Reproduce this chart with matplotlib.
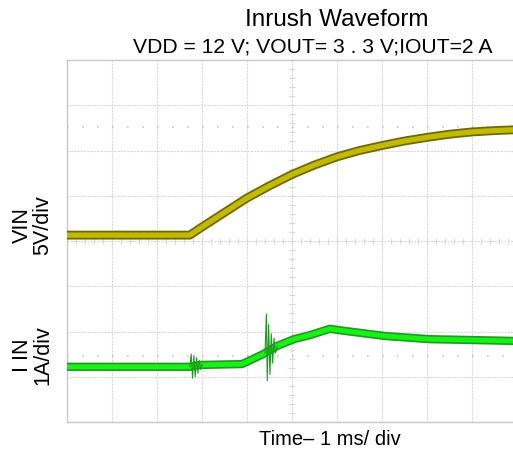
import numpy as np
import matplotlib
matplotlib.use("Agg")
import matplotlib.pyplot as plt

plt.rcParams['font.family'] = ['Liberation Sans', 'DejaVu Sans']

# screen units are divisions: 10 across (1 ms/div), 8 down
# VIN trace (5 V/div)
vin_t = [0.0, 2.73, 3.0, 3.5, 4.0, 4.5, 5.0, 5.5, 6.0, 6.5, 7.0, 7.5, 8.0, 8.5, 9.0, 9.5, 10.0]
vin_y = [4.13, 4.13, 4.31, 4.63, 4.95, 5.22, 5.47, 5.68, 5.86, 6.00, 6.11, 6.21, 6.29, 6.36, 6.41, 6.44, 6.46]

# IIN trace (1 A/div)
iin_t = [0.0, 2.73, 2.95, 3.89, 4.36, 4.67, 5.04, 5.40, 5.84, 6.04, 7.07, 8.07, 9.07, 10.0]
iin_y = [1.22, 1.22, 1.26, 1.28, 1.50, 1.68, 1.83, 1.92, 2.06, 2.03, 1.90, 1.83, 1.81, 1.79]

# ringing bursts
burst1_t = [2.73, 2.76, 2.79, 2.82, 2.85, 2.88, 2.91, 2.94, 2.97, 3.00]
burst1_y = [1.22, 1.50, 0.97, 1.47, 1.00, 1.42, 1.08, 1.36, 1.16, 1.27]
burst2_t = [4.40, 4.43, 4.45, 4.48, 4.51, 4.54, 4.57, 4.60, 4.63, 4.67]
burst2_y = [1.52, 2.39, 0.91, 2.15, 1.05, 1.95, 1.30, 1.85, 1.52, 1.68]

# reference markers (dotted)
ref_levels = [6.52, 1.46]

fig = plt.figure(figsize=(5.13, 4.52), dpi=100)
ax = fig.add_axes([67 / 513, 29 / 452, 450 / 513, 362 / 452])
ax.set_xlim(0, 10)
ax.set_ylim(0, 8)

grid_c = '#d8d8d8'
for gx in range(1, 10):
    ax.axvline(gx, color=grid_c, lw=0.8, ls=(0, (2, 1)), zorder=1)
for gy in range(1, 8):
    ax.axhline(gy, color=grid_c, lw=0.8, ls=(0, (2, 1)), zorder=1)

# minor ticks on centre lines
minor = np.arange(0, 10.01, 0.2)
ax.plot(minor, np.full_like(minor, 4.0), ls='none', marker='|', ms=5, mew=0.8, color=grid_c, zorder=1)
minor_y = np.arange(0, 8.01, 0.2)
ax.plot(np.full_like(minor_y, 5.0), minor_y, ls='none', marker='_', ms=5, mew=0.8, color=grid_c, zorder=1)

for lvl in ref_levels:
    ax.axhline(lvl, color='#c8c8c8', lw=1.2, ls=(0, (1, 8)), zorder=1)

# VIN band
ax.plot(vin_t, vin_y, color='#6e6a00', lw=6.4, solid_capstyle='butt', zorder=3)
ax.plot(vin_t, vin_y, color='#c2ba00', lw=3.8, solid_capstyle='butt', zorder=4)

# IIN band
ax.plot(iin_t, iin_y, color='#1c9c1c', lw=6.0, solid_capstyle='butt', zorder=3)
ax.plot(iin_t, iin_y, color='#18f018', lw=3.6, solid_capstyle='butt', zorder=4)
ax.plot(burst1_t, burst1_y, color='#1c9c1c', lw=0.8, zorder=5)
ax.plot(burst2_t, burst2_y, color='#1c9c1c', lw=0.8, zorder=5)

for s in ax.spines.values():
    s.set_color('#c8c8c8')
    s.set_linewidth(1.0)
ax.set_xticks([])
ax.set_yticks([])

fig.text(337 / 513, 1 - 20 / 452, 'Inrush Waveform', ha='center', va='center', fontsize=17.5)
fig.text(313 / 513, 1 - 47 / 452, 'VDD = 12 V; VOUT= 3 . 3 V;IOUT=2 A', ha='center', va='center', fontsize=15.2)
fig.text(330 / 513, 1 - 440 / 452, 'Time– 1 ms/ div', ha='center', va='center', fontsize=14.5)

fig.text(33 / 513, 1 - 225 / 452, 'VIN\n5V/div', ha='center', va='center', rotation=90,
         fontsize=15.5, linespacing=0.95)
fig.text(33 / 513, 1 - 355 / 452, 'I IN\n1A/div', ha='center', va='center', rotation=90,
         fontsize=15.5, linespacing=0.95)

fig.savefig('out.png', dpi=100)
